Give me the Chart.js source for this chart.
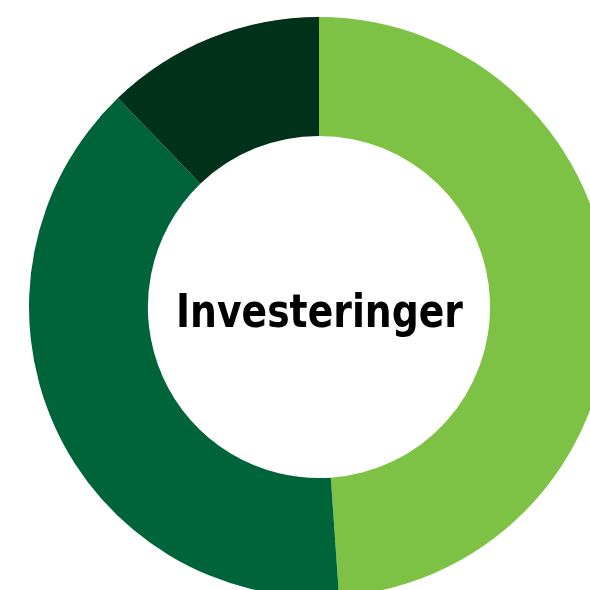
<!DOCTYPE html>
<html>
<head>
<meta charset="utf-8">
<script src="https://cdn.jsdelivr.net/npm/chart.js@4"></script>
<style>
  html, body { margin: 0; padding: 0; background: #fff; overflow: hidden; width: 590px; height: 590px; }
  #wrap { position: absolute; left: 29px; top: 17px; width: 580px; height: 580px; }
</style>
</head>
<body>
<div id="wrap"><canvas id="chart" width="580" height="580"></canvas></div>
<script>
const categories = ['Del 1', 'Del 2', 'Del 3'];
const shares = [48.9, 38.9, 12.2];
const sliceColors = ['#7dc244', '#00643a', '#00311b'];
const centerLabel = 'Investeringer';

// writes the label in the hole of the ring, squeezed to the width seen in the original
const centerText = {
    id: 'centerText',
    afterDraw(chart) {
        const ctx = chart.ctx;
        const arc = chart.getDatasetMeta(0).data[0];
        ctx.save();
        ctx.font = 'bold 47px "DejaVu Sans Condensed", "DejaVu Sans", sans-serif';
        ctx.fillStyle = '#000';
        ctx.textAlign = 'center';
        ctx.textBaseline = 'alphabetic';
        const w = ctx.measureText(centerLabel).width;
        const squeeze = Math.min(1, 287 / w);
        ctx.translate(arc.x + 0.5, arc.y + 20);
        ctx.scale(squeeze, 1);
        ctx.fillText(centerLabel, 0, 0);
        ctx.restore();
    }
};

new Chart(document.getElementById('chart'), {
    type: 'doughnut',
    data: {
        labels: categories,
        datasets: [{
            data: shares,
            backgroundColor: sliceColors,
            borderWidth: 0
        }]
    },
    options: {
        responsive: false,
        animation: false,
        cutout: '59%',
        layout: { padding: 0 },
        plugins: {
            legend: { display: false },
            tooltip: { enabled: false }
        }
    },
    plugins: [centerText]
});
</script>
</body>
</html>
